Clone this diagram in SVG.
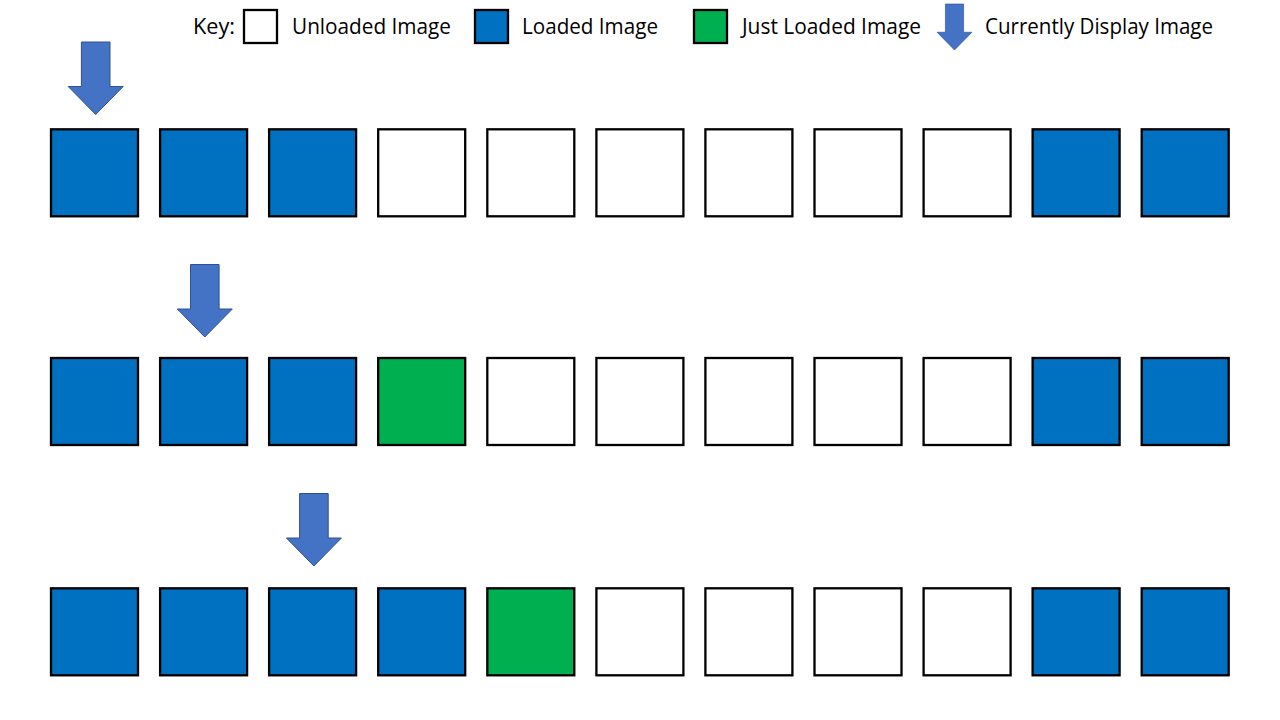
<svg xmlns="http://www.w3.org/2000/svg" xmlns:xlink="http://www.w3.org/1999/xlink" width="1280" height="720" viewBox="0 0 1280 720">
<style>
.sq{stroke:#000;stroke-width:2.3}
.u{fill:#fff}
.l{fill:#0070C0}
.j{fill:#00B050}
.arr{fill:#4472C4;stroke:#2F528F;stroke-width:1;vector-effect:non-scaling-stroke}
.t{font-family:"Open Sans","Liberation Sans",sans-serif;font-size:21px;fill:#000}
</style>
<defs>
<path id="arrow" d="M-14.3,0 H14.3 V44.5 H27.5 L0,72.5 L-27.5,44.5 H-14.3 Z"/>
</defs>
<rect width="1280" height="720" fill="#fff"/>
<g id="key">
<text class="t" x="193" y="34" textLength="42" lengthAdjust="spacingAndGlyphs">Key:</text>
<rect class="sq u" x="244" y="10" width="33" height="33"/>
<text class="t" x="292" y="34" textLength="159" lengthAdjust="spacingAndGlyphs">Unloaded Image</text>
<rect class="sq l" x="475" y="10" width="33" height="33"/>
<text class="t" x="522" y="34" textLength="136" lengthAdjust="spacingAndGlyphs">Loaded Image</text>
<rect class="sq j" x="694" y="10" width="33" height="33"/>
<text class="t" x="742" y="34" textLength="179" lengthAdjust="spacingAndGlyphs">Just Loaded Image</text>
<use href="#arrow" class="arr" transform="translate(954.5,4) scale(0.635)"/>
<text class="t" x="985" y="34" textLength="228" lengthAdjust="spacingAndGlyphs">Currently Display Image</text>
</g>
<g id="pointers">
<use href="#arrow" class="arr" x="95.7" y="42"/>
<use href="#arrow" class="arr" x="204.8" y="264.5"/>
<use href="#arrow" class="arr" x="313.9" y="493.5"/>
</g>
<g id="row1">
<rect id="r1c1" class="sq l" x="51" y="129.3" width="87" height="87"/>
<rect id="r1c2" class="sq l" x="160.1" y="129.3" width="87" height="87"/>
<rect id="r1c3" class="sq l" x="269.1" y="129.3" width="87" height="87"/>
<rect id="r1c4" class="sq u" x="378.2" y="129.3" width="87" height="87"/>
<rect id="r1c5" class="sq u" x="487.3" y="129.3" width="87" height="87"/>
<rect id="r1c6" class="sq u" x="596.4" y="129.3" width="87" height="87"/>
<rect id="r1c7" class="sq u" x="705.4" y="129.3" width="87" height="87"/>
<rect id="r1c8" class="sq u" x="814.5" y="129.3" width="87" height="87"/>
<rect id="r1c9" class="sq u" x="923.6" y="129.3" width="87" height="87"/>
<rect id="r1c10" class="sq l" x="1032.6" y="129.3" width="87" height="87"/>
<rect id="r1c11" class="sq l" x="1141.7" y="129.3" width="87" height="87"/>
</g>
<g id="row2">
<rect id="r2c1" class="sq l" x="51" y="358" width="87" height="87"/>
<rect id="r2c2" class="sq l" x="160.1" y="358" width="87" height="87"/>
<rect id="r2c3" class="sq l" x="269.1" y="358" width="87" height="87"/>
<rect id="r2c4" class="sq j" x="378.2" y="358" width="87" height="87"/>
<rect id="r2c5" class="sq u" x="487.3" y="358" width="87" height="87"/>
<rect id="r2c6" class="sq u" x="596.4" y="358" width="87" height="87"/>
<rect id="r2c7" class="sq u" x="705.4" y="358" width="87" height="87"/>
<rect id="r2c8" class="sq u" x="814.5" y="358" width="87" height="87"/>
<rect id="r2c9" class="sq u" x="923.6" y="358" width="87" height="87"/>
<rect id="r2c10" class="sq l" x="1032.6" y="358" width="87" height="87"/>
<rect id="r2c11" class="sq l" x="1141.7" y="358" width="87" height="87"/>
</g>
<g id="row3">
<rect id="r3c1" class="sq l" x="51" y="588.3" width="87" height="87"/>
<rect id="r3c2" class="sq l" x="160.1" y="588.3" width="87" height="87"/>
<rect id="r3c3" class="sq l" x="269.1" y="588.3" width="87" height="87"/>
<rect id="r3c4" class="sq l" x="378.2" y="588.3" width="87" height="87"/>
<rect id="r3c5" class="sq j" x="487.3" y="588.3" width="87" height="87"/>
<rect id="r3c6" class="sq u" x="596.4" y="588.3" width="87" height="87"/>
<rect id="r3c7" class="sq u" x="705.4" y="588.3" width="87" height="87"/>
<rect id="r3c8" class="sq u" x="814.5" y="588.3" width="87" height="87"/>
<rect id="r3c9" class="sq u" x="923.6" y="588.3" width="87" height="87"/>
<rect id="r3c10" class="sq l" x="1032.6" y="588.3" width="87" height="87"/>
<rect id="r3c11" class="sq l" x="1141.7" y="588.3" width="87" height="87"/>
</g>
</svg>
